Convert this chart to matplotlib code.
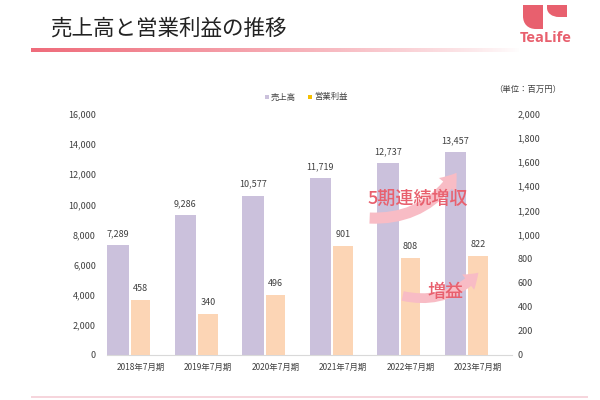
import numpy as np
import matplotlib
matplotlib.use("Agg")
import matplotlib.pyplot as plt
from matplotlib.path import Path
from matplotlib.patches import PathPatch, Rectangle

plt.rcParams['font.family'] = ['Noto Sans CJK JP', 'DejaVu Sans']

# data
years = ['2018年7月期', '2019年7月期', '2020年7月期', '2021年7月期', '2022年7月期', '2023年7月期']
sales = [7289, 9286, 10577, 11719, 12737, 13457]
profit = [458, 340, 496, 901, 808, 822]
sales_ticks = list(range(0, 16001, 2000))
profit_ticks = list(range(0, 2001, 200))

c_sales = '#CBC1DC'
c_profit = '#FCD5B5'
c_pink = '#E8606E'
c_text = '#404040'

fig = plt.figure(figsize=(6, 4), dpi=100)
W, H = 600, 400


def px(x, y):
    return (x / W, 1 - y / H)


# title + gradient rule
fig.text(*px(50, 29), '売上高と営業利益の推移', fontsize=15.5, color='#222222', va='center', ha='left')
gax = fig.add_axes([31 / W, 1 - 52 / H, 490 / W, 4 / H])
grad = np.zeros((1, 256, 4))
rgb = matplotlib.colors.to_rgb('#EF6B7A')
grad[..., 0], grad[..., 1], grad[..., 2] = rgb
grad[..., 3] = np.linspace(1, 0, 256) ** 0.8
gax.imshow(grad, aspect='auto', extent=(0, 1, 0, 1))
gax.axis('off')

# logo
left_leaf = [(523, 5), (543, 5), (543, 29), (536, 29), (528, 29), (523, 24), (523, 16), (523, 5)]
right_leaf = [(547, 5), (567, 5), (567, 17), (559, 17), (552, 17), (547, 13), (547, 8), (547, 5)]
codes = [Path.MOVETO, Path.LINETO, Path.LINETO, Path.LINETO, Path.CURVE4, Path.CURVE4, Path.CURVE4, Path.CLOSEPOLY]
for pts in (left_leaf, right_leaf):
    p = Path([px(*q) for q in pts], codes)
    fig.patches.append(PathPatch(p, transform=fig.transFigure, facecolor=c_pink, edgecolor='none'))
fig.text(*px(546, 38), 'TeaLife', fontsize=10.5, color=c_pink, ha='center', va='center',
         family=['Open Sans', 'DejaVu Sans'], weight='bold')

# bottom band
fig.patches.append(Rectangle(px(31, 398), 557 / W, 2.5 / H, transform=fig.transFigure,
                             facecolor='#F6D5DC', edgecolor='none'))

# chart
ax = fig.add_axes([107 / W, 45 / H, 405 / W, 241 / H])
ax2 = ax.twinx()
x = np.arange(len(years))
ax.bar(x - 0.34, sales, width=0.32, color=c_sales, zorder=2)
ax2.bar(x - 0.005, profit, width=0.29, color=c_profit, zorder=2)

ax.set_xlim(-0.5, 5.5)
ax.set_ylim(0, 16000)
ax2.set_ylim(0, 2000)
ax.set_yticks(sales_ticks)
ax.set_yticklabels([f'{v:,}' for v in sales_ticks])
ax2.set_yticks(profit_ticks)
ax2.set_yticklabels([f'{v:,}' for v in profit_ticks])
ax.set_xticks(x)
ax.set_xticklabels(years)

ax.tick_params(axis='y', length=0, pad=8, labelsize=6.5, labelcolor=c_text)
ax2.tick_params(axis='y', length=0, pad=4, labelsize=6.5, labelcolor=c_text)
ax.tick_params(axis='x', length=0, pad=6, labelsize=6, labelcolor=c_text)
for a in (ax, ax2):
    for s in a.spines.values():
        s.set_visible(False)
ax.spines['bottom'].set_visible(True)
ax.spines['bottom'].set_color('#D9D9D9')

for xi, v in zip(x, sales):
    ax.annotate(f'{v:,}', (xi - 0.34, v), xytext=(0, 5), textcoords='offset points',
                ha='center', va='bottom', fontsize=6.5, color=c_text)
for xi, v in zip(x, profit):
    ax2.annotate(f'{v:,}', (xi - 0.005, v), xytext=(0, 5), textcoords='offset points',
                 ha='center', va='bottom', fontsize=6.5, color=c_text)

# arrows + callouts
ax.annotate('', xy=(4.70, 12250), xytext=(3.35, 9100),
            arrowprops=dict(arrowstyle='simple,head_width=1.6,head_length=1.1,tail_width=0.8',
                            connectionstyle='arc3,rad=0.3', color='#F8BCC5', lw=0),
            zorder=5)
ax.text(4.11, 10350, '5期連続増収', fontsize=13, color=c_pink, ha='center', va='center',
        weight='medium', zorder=6)
ax2.annotate('', xy=(5.03, 700), xytext=(3.84, 495),
             arrowprops=dict(arrowstyle='simple,head_width=1.4,head_length=1.0,tail_width=0.7',
                             connectionstyle='arc3,rad=0.3', color='#F8BCC5', lw=0),
             zorder=5)
ax2.text(4.51, 523, '増益', fontsize=13, color=c_pink, ha='center', va='center',
         weight='medium', zorder=6)

# legend + unit
fig.patches.append(Rectangle(px(265, 99), 4 / W, 4 / H, transform=fig.transFigure, facecolor=c_sales))
fig.text(*px(271, 97), '売上高', fontsize=6, color=c_text, va='center')
fig.patches.append(Rectangle(px(308, 99), 4 / W, 4 / H, transform=fig.transFigure, facecolor='#F5BF00'))
fig.text(*px(314, 97), '営業利益', fontsize=6, color=c_text, va='center')
fig.text(*px(528, 89), '（単位：百万円）', fontsize=6, color=c_text, va='center', ha='center')

fig.savefig('out.png', dpi=100)
